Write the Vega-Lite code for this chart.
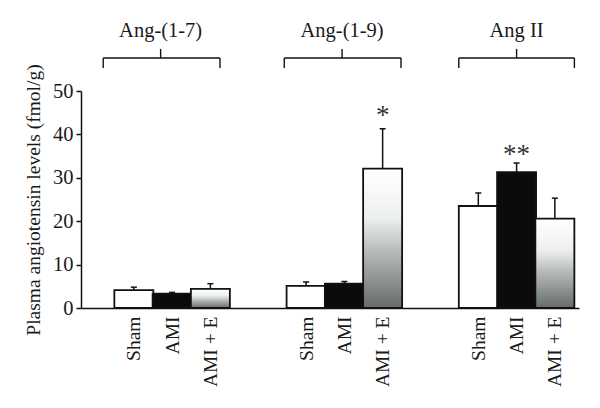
{
  "$schema": "https://vega.github.io/schema/vega-lite/v6.json",
  "autosize": {"type": "none"},
  "width": 498,
  "height": 217,
  "padding": {"left": 81, "top": 91, "right": 21, "bottom": 100},
  "background": "white",
  "config": {
    "view": {"stroke": null},
    "font": "Liberation Serif",
    "axis": {"grid": false, "labelFont": "Liberation Serif", "titleFont": "Liberation Serif", "labelColor": "#1a1a1a", "titleColor": "#1a1a1a", "domainColor": "#111111", "tickColor": "#111111"}
  },
  "datasets": {
    "bars": [
      {"group": "Ang-(1-7)", "treatment": "Sham", "pos": 0, "mean": 4.1, "upper": 4.8},
      {"group": "Ang-(1-7)", "treatment": "AMI", "pos": 1, "mean": 3.3, "upper": 3.6},
      {"group": "Ang-(1-7)", "treatment": "AMI + E", "pos": 2, "mean": 4.4, "upper": 5.6},
      {"group": "Ang-(1-9)", "treatment": "Sham", "pos": 4.5, "mean": 5.1, "upper": 6.0},
      {"group": "Ang-(1-9)", "treatment": "AMI", "pos": 5.5, "mean": 5.6, "upper": 6.1},
      {"group": "Ang-(1-9)", "treatment": "AMI + E", "pos": 6.5, "mean": 32.1, "upper": 41.3},
      {"group": "Ang II", "treatment": "Sham", "pos": 9, "mean": 23.5, "upper": 26.5},
      {"group": "Ang II", "treatment": "AMI", "pos": 10, "mean": 31.3, "upper": 33.4},
      {"group": "Ang II", "treatment": "AMI + E", "pos": 11, "mean": 20.6, "upper": 25.3}
    ],
    "braces": [
      {"group": "Ang-(1-7)", "L": -0.8, "C": 0.7, "R": 2.25},
      {"group": "Ang-(1-9)", "L": 3.93, "C": 5.44, "R": 6.98},
      {"group": "Ang II", "L": 8.49, "C": 10.0, "R": 11.51}
    ],
    "stars": [
      {"pos": 6.5, "y": 42.4, "label": "*"},
      {"pos": 10, "y": 33.5, "label": "**"}
    ]
  },
  "layer": [
    {
      "data": {"name": "bars"},
      "mark": {"type": "bar", "size": 39, "stroke": "#111111", "strokeWidth": 1.8},
      "encoding": {
        "x": {
          "field": "pos", "type": "quantitative",
          "scale": {"domain": [-1.25, 11.5], "nice": false, "zero": false},
          "axis": {
            "title": null,
            "values": [0, 1, 2, 4.5, 5.5, 6.5, 9, 10, 11],
            "labelExpr": "(datum.value == 0 || datum.value == 4.5 || datum.value == 9) ? 'Sham' : ((datum.value == 2 || datum.value == 6.5 || datum.value == 11) ? 'AMI + E' : 'AMI')",
            "labelAngle": 270,
            "labelFontSize": 19.5,
            "labelPadding": 8,
            "labelOverlap": false,
            "labelFlush": false,
            "ticks": false,
            "domainWidth": 1.5
          }
        },
        "y": {
          "field": "mean", "type": "quantitative",
          "scale": {"domain": [0, 50], "nice": false},
          "axis": {
            "title": "Plasma angiotensin levels (fmol/g)",
            "titleFontSize": 19.5,
            "titleFontWeight": "normal",
            "titlePadding": 9,
            "values": [0, 10, 20, 30, 40, 50],
            "labelFontSize": 20.5,
            "labelPadding": 3,
            "tickSize": 5,
            "tickWidth": 1.5,
            "domainWidth": 1.5
          }
        },
        "fill": {
          "condition": [
            {"test": "datum.treatment === 'AMI + E'", "value": {"gradient": "linear", "x1": 0, "y1": 0, "x2": 0, "y2": 1, "stops": [{"offset": 0, "color": "#ffffff"}, {"offset": 0.35, "color": "#eef0f0"}, {"offset": 0.6, "color": "#b5bab9"}, {"offset": 1, "color": "#656b69"}]}},
            {"test": "datum.treatment === 'AMI'", "value": "#0b0b0b"}
          ],
          "value": "#ffffff"
        }
      }
    },
    {
      "data": {"name": "bars"},
      "mark": {"type": "rule", "color": "#111111", "strokeWidth": 1.5},
      "encoding": {
        "x": {"field": "pos", "type": "quantitative"},
        "y": {"field": "mean", "type": "quantitative"},
        "y2": {"field": "upper"}
      }
    },
    {
      "data": {"name": "bars"},
      "mark": {"type": "tick", "orient": "horizontal", "size": 6, "thickness": 1.5, "color": "#111111", "opacity": 1},
      "encoding": {
        "x": {"field": "pos", "type": "quantitative"},
        "y": {"field": "upper", "type": "quantitative"}
      }
    },
    {
      "data": {"name": "braces"},
      "mark": {"type": "rule", "color": "#111111", "strokeWidth": 1.4},
      "encoding": {
        "x": {"field": "L", "type": "quantitative"},
        "x2": {"field": "R"},
        "y": {"datum": 57.6, "type": "quantitative"}
      }
    },
    {
      "data": {"name": "braces"},
      "mark": {"type": "rule", "color": "#111111", "strokeWidth": 1.4},
      "encoding": {
        "x": {"field": "L", "type": "quantitative"},
        "y": {"datum": 55.3, "type": "quantitative"},
        "y2": {"datum": 57.6}
      }
    },
    {
      "data": {"name": "braces"},
      "mark": {"type": "rule", "color": "#111111", "strokeWidth": 1.4},
      "encoding": {
        "x": {"field": "R", "type": "quantitative"},
        "y": {"datum": 55.3, "type": "quantitative"},
        "y2": {"datum": 57.6}
      }
    },
    {
      "data": {"name": "braces"},
      "mark": {"type": "rule", "color": "#111111", "strokeWidth": 1.4},
      "encoding": {
        "x": {"field": "C", "type": "quantitative"},
        "y": {"datum": 57.6, "type": "quantitative"},
        "y2": {"datum": 59.7}
      }
    },
    {
      "data": {"name": "braces"},
      "mark": {"type": "text", "fontSize": 20.5, "font": "Liberation Serif", "color": "#1a1a1a", "align": "center", "baseline": "alphabetic"},
      "encoding": {
        "x": {"field": "C", "type": "quantitative"},
        "y": {"datum": 62.4, "type": "quantitative"},
        "text": {"field": "group"}
      }
    },
    {
      "data": {"name": "stars"},
      "mark": {"type": "text", "fontSize": 27, "font": "Liberation Serif", "color": "#333333", "align": "center", "baseline": "alphabetic"},
      "encoding": {
        "x": {"field": "pos", "type": "quantitative"},
        "y": {"field": "y", "type": "quantitative"},
        "text": {"field": "label"}
      }
    }
  ]
}
